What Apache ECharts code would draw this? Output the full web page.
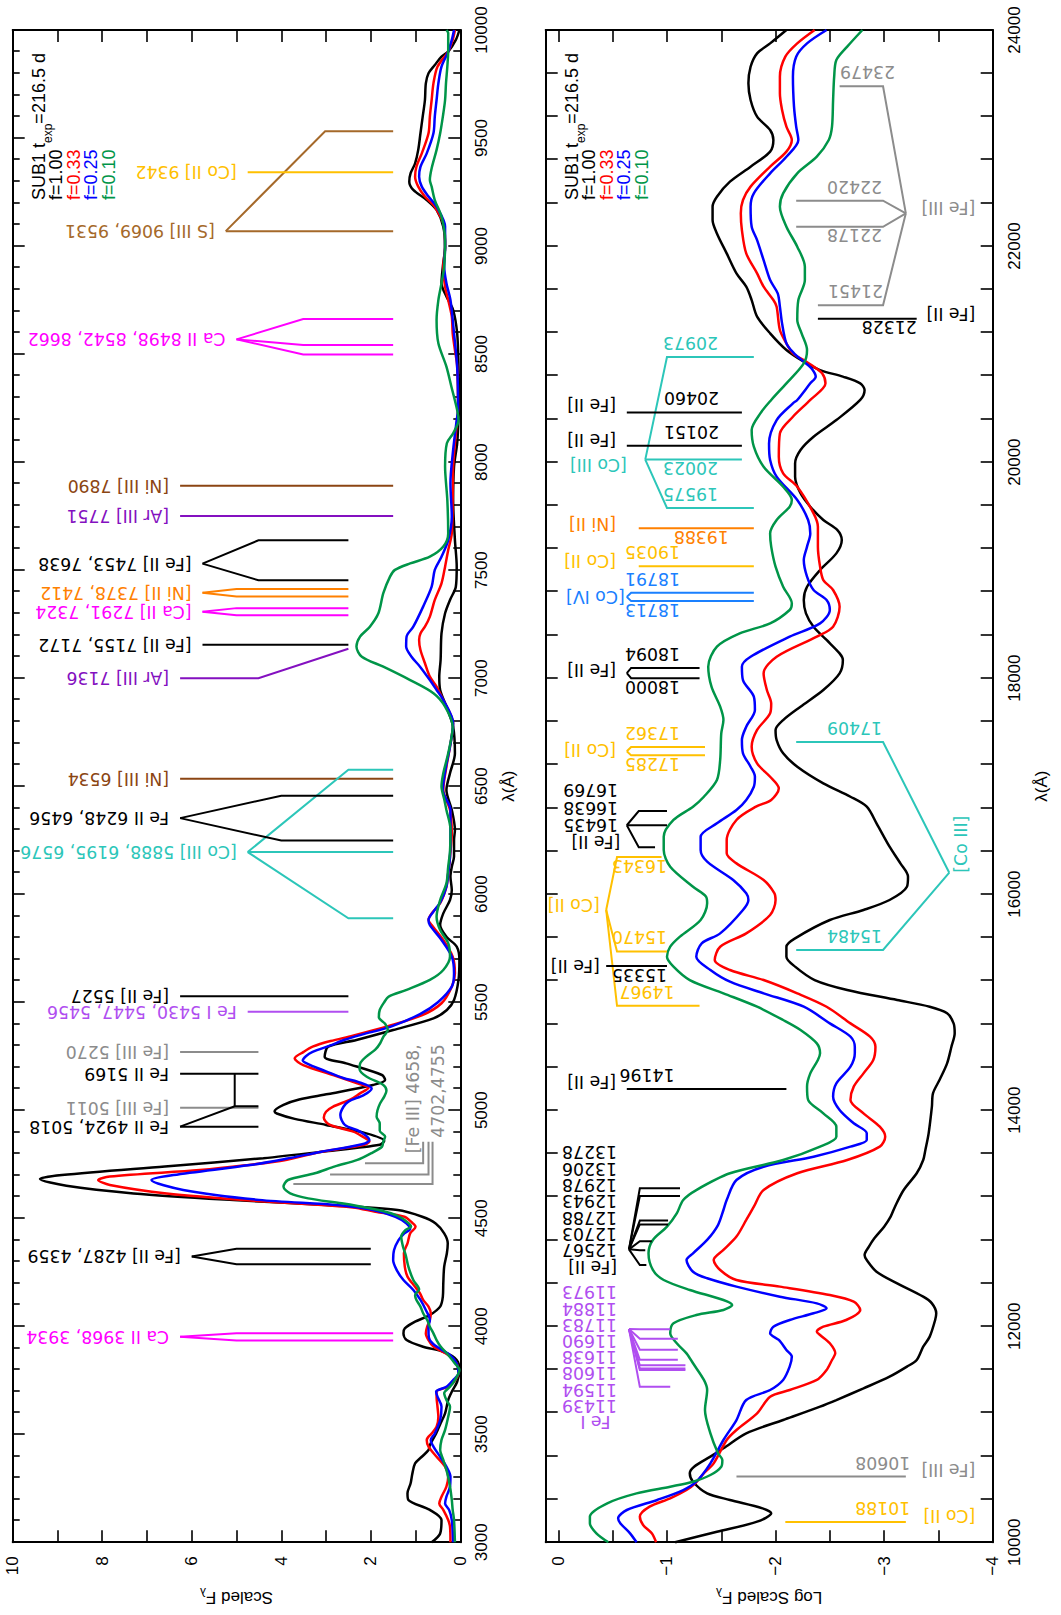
<!DOCTYPE html>
<html>
<head>
<meta charset="utf-8">
<script src="https://cdn.jsdelivr.net/npm/echarts@6.0.0/dist/echarts.min.js"></script>
<style>
html, body { margin: 0; padding: 0; background: #fff; overflow: hidden; width: 1061px; height: 1615px; }
/* the figure is laid out landscape and turned a quarter turn counter-clockwise */
#chart { position: absolute; left: 0; top: 0; width: 1615px; height: 1061px;
         transform-origin: 0 0; transform: translateY(1615px) rotate(-90deg); }
</style>
</head>
<body>
<div id="chart"></div>
<script>
// ---------------- optical spectra (Scaled F_lambda), pairs [wavelength A, flux] ----------------
const optF100 = [[3000,0.64],[3041,0.45],[3103,0.42],[3150,0.68],[3196,1.16],[3227,1.18],[3273,1.11],[3319,1.07],[3365,1.01],[3396,0.86],[3427,0.71],[3450,0.68],[3504,0.54],[3551,0.44],[3597,0.34],[3659,0.27],[3697,0.19],[3743,0.07],[3798,0.02],[3844,0.08],[3882,0.38],[3905,0.83],[3936,1.20],[3967,1.27],[3990,1.24],[4021,1.01],[4052,0.68],[4091,0.45],[4137,0.39],[4199,0.38],[4276,0.36],[4338,0.30],[4384,0.28],[4430,0.36],[4476,0.55],[4507,0.85],[4538,1.4],[4561,3.0],[4584,5.07],[4615,7.3],[4650,8.8],[4682,9.39],[4700,8.9],[4740,6.6],[4778,4.4],[4810,3.0],[4840,1.8],[4858,1.7],[4893,2.1],[4932,3.0],[4960,3.7],[4985,4.1],[4995,4.15],[5025,3.95],[5050,3.6],[5075,2.95],[5117,1.95],[5140,1.68],[5163,1.75],[5217,2.55],[5248,3.03],[5294,2.95],[5325,2.32],[5371,1.5],[5425,0.6],[5464,0.3],[5510,0.14],[5603,0.04],[5695,0.02],[5757,0.08],[5803,0.31],[5857,0.45],[5911,0.38],[5973,0.23],[6019,0.19],[6081,0.22],[6127,0.19],[6174,0.14],[6251,0.14],[6297,0.12],[6390,0.19],[6482,0.31],[6560,0.23],[6652,0.12],[6775,0.16],[6868,0.31],[6945,0.45],[7007,0.47],[7084,0.44],[7207,0.42],[7300,0.34],[7362,0.23],[7423,0.10],[7516,0.08],[7639,0.12],[7825,0.16],[7979,0.14],[8087,0.07],[8195,0.04],[8241,0.03],[8442,0.04],[8596,0.07],[8704,0.16],[8766,0.31],[8828,0.42],[8905,0.39],[8997,0.34],[9090,0.38],[9167,0.53],[9213,0.75],[9260,1.05],[9298,1.14],[9337,1.11],[9383,1.01],[9445,0.94],[9522,0.89],[9599,0.84],[9676,0.79],[9753,0.77],[9800,0.71],[9838,0.57],[9877,0.42],[9900,0.27],[9954,0.10],[10000,0.02]];
const optF033 = [[3000,0.22],[3072,0.23],[3103,0.27],[3150,0.38],[3180,0.47],[3211,0.42],[3258,0.31],[3304,0.27],[3350,0.34],[3396,0.53],[3443,0.71],[3474,0.75],[3504,0.64],[3535,0.53],[3581,0.49],[3628,0.51],[3674,0.53],[3697,0.53],[3720,0.27],[3743,0.14],[3782,0.04],[3828,0.08],[3867,0.27],[3906,0.60],[3936,0.71],[3967,0.77],[3998,0.74],[4029,0.68],[4060,0.66],[4091,0.71],[4122,0.83],[4152,0.90],[4183,1.01],[4230,1.18],[4276,1.24],[4338,1.26],[4384,1.18],[4430,1.12],[4461,1.0],[4480,1.08],[4507,1.25],[4530,1.9],[4550,2.4],[4577,4.33],[4615,6.56],[4654,7.83],[4677,8.09],[4693,7.83],[4723,5.82],[4745,4.8],[4770,3.9],[4808,3.1],[4839,2.17],[4855,2.03],[4880,2.2],[4901,2.39],[4932,2.91],[4965,3.05],[4993,3.0],[5016,2.85],[5050,2.45],[5078,2.24],[5104,2.05],[5124,2.3],[5163,2.84],[5209,3.51],[5240,3.7],[5270,3.5],[5294,3.3],[5320,2.9],[5345,2.4],[5390,1.6],[5440,0.85],[5495,0.42],[5572,0.19],[5634,0.12],[5711,0.17],[5788,0.38],[5857,0.64],[5881,0.71],[5911,0.64],[5958,0.45],[6035,0.31],[6097,0.27],[6174,0.23],[6282,0.19],[6390,0.23],[6482,0.38],[6590,0.31],[6683,0.23],[6791,0.16],[6837,0.23],[6899,0.38],[6961,0.53],[7007,0.68],[7069,0.79],[7130,0.89],[7177,0.92],[7207,0.89],[7238,0.79],[7285,0.68],[7362,0.57],[7439,0.42],[7516,0.34],[7593,0.27],[7670,0.19],[7825,0.17],[7979,0.16],[8087,0.12],[8195,0.07],[8241,0.05],[8442,0.07],[8519,0.12],[8596,0.17],[8673,0.19],[8750,0.27],[8812,0.34],[8905,0.38],[8997,0.34],[9090,0.36],[9182,0.57],[9229,0.79],[9275,0.94],[9321,1.01],[9367,0.98],[9429,0.86],[9522,0.71],[9599,0.68],[9676,0.64],[9753,0.60],[9830,0.51],[9900,0.27],[9954,0.17],[10000,0.12]];
const optF025 = [[3000,0.16],[3103,0.19],[3150,0.25],[3180,0.34],[3211,0.31],[3258,0.23],[3304,0.22],[3350,0.31],[3396,0.45],[3443,0.60],[3474,0.66],[3504,0.57],[3566,0.45],[3628,0.42],[3674,0.51],[3697,0.54],[3720,0.31],[3751,0.16],[3782,0.04],[3828,0.08],[3867,0.23],[3906,0.53],[3936,0.68],[3967,0.71],[3998,0.71],[4029,0.68],[4075,0.77],[4122,0.89],[4168,1.05],[4214,1.27],[4260,1.42],[4307,1.50],[4353,1.48],[4399,1.38],[4430,1.25],[4450,1.12],[4476,1.2],[4507,1.45],[4538,1.95],[4560,2.7],[4585,4.5],[4631,6.19],[4677,6.9],[4700,6.41],[4746,4.7],[4775,3.9],[4808,3.1],[4844,2.17],[4862,2.03],[4901,2.24],[4932,2.58],[4978,2.68],[5016,2.61],[5040,2.5],[5071,2.15],[5101,1.98],[5132,2.3],[5148,2.6],[5180,3.0],[5210,3.36],[5230,3.52],[5250,3.45],[5270,3.3],[5300,2.9],[5325,2.6],[5350,2.2],[5387,1.55],[5445,0.9],[5500,0.5],[5572,0.19],[5634,0.14],[5711,0.19],[5788,0.42],[5857,0.68],[5881,0.71],[5919,0.60],[5965,0.44],[6035,0.31],[6097,0.27],[6174,0.23],[6282,0.22],[6390,0.22],[6482,0.39],[6590,0.32],[6683,0.23],[6791,0.16],[6899,0.38],[6945,0.53],[6991,0.68],[7053,0.90],[7099,1.09],[7146,1.21],[7192,1.20],[7238,1.05],[7331,0.83],[7423,0.64],[7501,0.57],[7562,0.42],[7639,0.27],[7747,0.19],[7902,0.22],[8056,0.16],[8195,0.08],[8241,0.05],[8442,0.07],[8596,0.14],[8750,0.22],[8828,0.31],[8905,0.36],[8997,0.34],[9090,0.34],[9182,0.53],[9229,0.71],[9275,0.86],[9321,0.92],[9367,0.89],[9429,0.75],[9522,0.60],[9599,0.57],[9676,0.53],[9753,0.49],[9830,0.42],[9900,0.27],[9954,0.19],[10000,0.14]];
const optF010 = [[3000,0.12],[3103,0.14],[3150,0.17],[3196,0.19],[3258,0.23],[3319,0.29],[3381,0.38],[3427,0.45],[3474,0.42],[3520,0.34],[3581,0.27],[3628,0.23],[3659,0.31],[3690,0.36],[3720,0.23],[3751,0.12],[3798,0.02],[3828,0.12],[3867,0.27],[3906,0.44],[3936,0.53],[3967,0.60],[3998,0.68],[4029,0.74],[4060,0.83],[4091,0.89],[4122,0.98],[4145,1.01],[4170,0.92],[4214,1.05],[4276,1.16],[4330,1.22],[4368,1.28],[4415,1.32],[4446,1.22],[4461,1.1],[4476,1.15],[4500,1.3],[4523,1.55],[4545,2.0],[4569,2.65],[4592,3.4],[4615,3.8],[4646,3.95],[4677,3.85],[4708,3.25],[4740,2.8],[4770,2.3],[4800,2.0],[4831,1.75],[4855,1.72],[4878,1.68],[4905,1.8],[4939,1.8],[4970,1.87],[5000,1.85],[5032,1.79],[5063,1.7],[5090,1.65],[5117,1.72],[5155,2.09],[5190,2.25],[5215,2.24],[5248,2.1],[5280,1.9],[5310,1.79],[5340,1.72],[5371,1.62],[5400,1.68],[5430,1.82],[5464,1.8],[5500,1.7],[5526,1.6],[5557,1.2],[5603,0.68],[5649,0.38],[5711,0.23],[5773,0.27],[5834,0.45],[5896,0.53],[5973,0.45],[6050,0.31],[6127,0.27],[6200,0.23],[6300,0.22],[6390,0.31],[6440,0.36],[6498,0.42],[6560,0.38],[6652,0.27],[6775,0.17],[6868,0.34],[6930,0.60],[6991,1.12],[7053,1.72],[7099,2.20],[7146,2.32],[7192,2.24],[7238,2.02],[7300,1.83],[7393,1.72],[7470,1.57],[7501,1.46],[7531,1.12],[7562,0.68],[7609,0.38],[7670,0.27],[7825,0.29],[7979,0.34],[8087,0.30],[8133,0.16],[8195,0.04],[8241,0.07],[8350,0.2],[8442,0.31],[8550,0.49],[8658,0.53],[8750,0.49],[8828,0.42],[8905,0.36],[9028,0.34],[9136,0.42],[9213,0.57],[9275,0.64],[9306,0.68],[9360,0.64],[9445,0.53],[9522,0.45],[9599,0.39],[9676,0.34],[9753,0.32],[9830,0.29],[9908,0.27],[9985,0.27],[10000,0.31]];

// ---------------- near-infrared spectra (log Scaled F_lambda) ----------------
const irF100 = [[10000,-1.075],[10098,-1.46],[10191,-1.83],[10268,-1.96],[10314,-1.88],[10392,-1.58],[10453,-1.37],[10561,-1.24],[10639,-1.21],[10700,-1.25],[10793,-1.40],[10870,-1.52],[11009,-1.73],[11132,-2.07],[11256,-2.41],[11317,-2.56],[11425,-2.81],[11533,-3.05],[11626,-3.21],[11688,-3.30],[11811,-3.36],[11904,-3.42],[12058,-3.47],[12120,-3.48],[12212,-3.44],[12274,-3.36],[12397,-3.12],[12505,-2.93],[12613,-2.84],[12660,-2.82],[12737,-2.86],[12814,-2.91],[12922,-3.00],[13015,-3.06],[13107,-3.10],[13261,-3.18],[13416,-3.30],[13539,-3.36],[13632,-3.38],[13786,-3.41],[14033,-3.44],[14156,-3.45],[14280,-3.51],[14434,-3.58],[14588,-3.62],[14712,-3.65],[14804,-3.64],[14897,-3.58],[14958,-3.42],[15020,-3.12],[15113,-2.66],[15205,-2.36],[15329,-2.18],[15421,-2.10],[15514,-2.10],[15591,-2.18],[15761,-2.50],[15854,-2.81],[15946,-3.05],[16069,-3.21],[16162,-3.22],[16285,-3.15],[16440,-3.05],[16656,-2.93],[16810,-2.84],[16902,-2.69],[17026,-2.44],[17180,-2.20],[17304,-2.07],[17427,-2.01],[17520,-2.00],[17612,-2.07],[17736,-2.23],[17890,-2.44],[18044,-2.59],[18168,-2.62],[18229,-2.59],[18353,-2.47],[18476,-2.35],[18600,-2.28],[18723,-2.26],[18846,-2.29],[19001,-2.41],[19155,-2.56],[19279,-2.61],[19371,-2.57],[19464,-2.44],[19587,-2.32],[19711,-2.23],[19865,-2.18],[19988,-2.18],[20112,-2.23],[20235,-2.35],[20389,-2.56],[20575,-2.78],[20667,-2.82],[20729,-2.78],[20791,-2.62],[20852,-2.41],[20930,-2.26],[21038,-2.10],[21192,-1.95],[21346,-1.83],[21500,-1.78],[21624,-1.73],[21747,-1.64],[21932,-1.55],[22117,-1.46],[22241,-1.42],[22364,-1.42],[22457,-1.46],[22596,-1.58],[22735,-1.77],[22874,-1.95],[22982,-1.98],[23074,-1.95],[23198,-1.83],[23352,-1.77],[23506,-1.75],[23660,-1.77],[23784,-1.83],[23876,-1.95],[24000,-2.10]];
const irF033 = [[10000,-0.90],[10083,-0.86],[10160,-0.78],[10238,-0.75],[10330,-0.84],[10407,-1.03],[10484,-1.18],[10546,-1.26],[10639,-1.34],[10731,-1.43],[10947,-1.55],[11040,-1.64],[11194,-1.83],[11348,-1.95],[11410,-2.13],[11503,-2.38],[11595,-2.47],[11688,-2.52],[11749,-2.55],[11842,-2.50],[11919,-2.41],[11950,-2.38],[11996,-2.44],[12058,-2.65],[12151,-2.78],[12228,-2.72],[12289,-2.50],[12367,-2.04],[12428,-1.64],[12521,-1.49],[12613,-1.43],[12706,-1.52],[12830,-1.64],[12984,-1.73],[13107,-1.80],[13261,-1.89],[13416,-2.20],[13539,-2.66],[13663,-2.96],[13755,-3.01],[13848,-2.96],[13971,-2.81],[14095,-2.69],[14218,-2.72],[14341,-2.81],[14465,-2.90],[14588,-2.92],[14681,-2.87],[14804,-2.69],[14958,-2.47],[15082,-2.20],[15205,-1.89],[15298,-1.58],[15391,-1.44],[15514,-1.49],[15637,-1.73],[15807,-1.95],[15946,-2.00],[16008,-1.99],[16131,-1.89],[16285,-1.64],[16378,-1.55],[16501,-1.55],[16687,-1.64],[16810,-1.82],[16872,-1.96],[16979,-2.03],[17087,-1.95],[17211,-1.83],[17365,-1.78],[17520,-1.83],[17674,-1.95],[17766,-1.96],[17890,-1.92],[18044,-1.89],[18198,-2.01],[18384,-2.38],[18476,-2.53],[18661,-2.59],[18816,-2.53],[18908,-2.44],[19032,-2.41],[19217,-2.39],[19402,-2.39],[19525,-2.35],[19772,-2.20],[19896,-2.07],[20050,-2.03],[20266,-2.04],[20420,-2.16],[20575,-2.32],[20729,-2.46],[20821,-2.43],[20898,-2.33],[20944,-2.26],[21007,-2.16],[21099,-2.10],[21223,-2.04],[21439,-2.01],[21500,-1.98],[21624,-1.89],[21747,-1.83],[21932,-1.73],[22148,-1.69],[22303,-1.68],[22426,-1.70],[22550,-1.77],[22735,-1.95],[22874,-2.10],[22982,-2.15],[23105,-2.10],[23260,-2.06],[23414,-2.04],[23568,-2.04],[23753,-2.09],[23876,-2.20],[24000,-2.36]];
const irF025 = [[10000,-0.72],[10083,-0.66],[10176,-0.57],[10222,-0.55],[10299,-0.63],[10392,-0.91],[10484,-1.15],[10561,-1.27],[10731,-1.40],[10947,-1.52],[11132,-1.64],[11317,-1.73],[11410,-1.95],[11503,-2.07],[11626,-2.13],[11719,-2.15],[11780,-2.10],[11873,-2.03],[11935,-1.95],[11996,-1.98],[12058,-2.13],[12120,-2.35],[12166,-2.47],[12212,-2.38],[12274,-2.04],[12367,-1.64],[12444,-1.37],[12505,-1.24],[12613,-1.18],[12675,-1.24],[12799,-1.37],[12937,-1.47],[13076,-1.52],[13169,-1.55],[13354,-1.64],[13477,-1.89],[13570,-2.35],[13663,-2.69],[13724,-2.84],[13786,-2.84],[13879,-2.72],[14002,-2.59],[14125,-2.53],[14249,-2.56],[14403,-2.69],[14527,-2.73],[14588,-2.73],[14681,-2.69],[14804,-2.50],[14958,-2.26],[15082,-1.89],[15190,-1.58],[15298,-1.40],[15421,-1.27],[15545,-1.32],[15637,-1.49],[15854,-1.70],[15946,-1.75],[16008,-1.73],[16131,-1.61],[16301,-1.37],[16409,-1.31],[16532,-1.31],[16656,-1.46],[16779,-1.64],[16872,-1.73],[16995,-1.80],[17087,-1.81],[17180,-1.77],[17304,-1.70],[17427,-1.69],[17550,-1.73],[17705,-1.81],[17828,-1.80],[17982,-1.70],[18106,-1.69],[18198,-1.77],[18384,-2.13],[18507,-2.41],[18631,-2.50],[18723,-2.47],[18816,-2.35],[18939,-2.29],[19093,-2.26],[19217,-2.29],[19340,-2.32],[19464,-2.30],[19649,-2.20],[19865,-2.01],[20019,-1.95],[20173,-1.94],[20389,-2.01],[20544,-2.16],[20575,-2.20],[20729,-2.32],[20791,-2.37],[20868,-2.33],[20930,-2.26],[21007,-2.17],[21099,-2.10],[21284,-2.06],[21439,-2.04],[21562,-2.02],[21685,-1.95],[21870,-1.89],[22055,-1.83],[22179,-1.78],[22364,-1.77],[22488,-1.80],[22673,-1.95],[22827,-2.10],[22982,-2.21],[23105,-2.19],[23290,-2.17],[23568,-2.16],[23753,-2.19],[23876,-2.29],[24000,-2.47]];
const irF010 = [[10000,-0.46],[10083,-0.35],[10176,-0.29],[10238,-0.29],[10361,-0.45],[10453,-0.72],[10515,-1.03],[10561,-1.24],[10623,-1.40],[10700,-1.50],[10762,-1.51],[10824,-1.47],[11009,-1.40],[11225,-1.35],[11410,-1.37],[11503,-1.34],[11657,-1.24],[11749,-1.18],[11842,-1.09],[11935,-1.03],[12027,-1.06],[12104,-1.27],[12151,-1.52],[12197,-1.60],[12243,-1.52],[12336,-1.21],[12428,-0.97],[12521,-0.87],[12675,-0.83],[12799,-0.87],[12922,-1.00],[13045,-1.09],[13169,-1.15],[13261,-1.27],[13416,-1.58],[13539,-2.07],[13663,-2.41],[13755,-2.56],[13848,-2.56],[13971,-2.44],[14095,-2.30],[14218,-2.29],[14341,-2.32],[14465,-2.39],[14527,-2.41],[14619,-2.38],[14743,-2.23],[14835,-2.07],[14958,-1.83],[15082,-1.52],[15205,-1.21],[15329,-1.06],[15421,-1.00],[15514,-1.03],[15607,-1.12],[15761,-1.31],[15915,-1.37],[15977,-1.36],[16069,-1.24],[16254,-1.03],[16409,-0.97],[16532,-0.97],[16687,-1.06],[16810,-1.24],[16902,-1.34],[17057,-1.46],[17242,-1.49],[17489,-1.50],[17612,-1.52],[17736,-1.49],[17921,-1.41],[18106,-1.38],[18291,-1.46],[18414,-1.67],[18507,-1.95],[18631,-2.13],[18692,-2.15],[18846,-2.07],[19032,-2.00],[19217,-1.96],[19340,-1.95],[19464,-2.01],[19587,-2.13],[19649,-2.15],[19772,-2.07],[19957,-1.89],[20143,-1.80],[20297,-1.78],[20451,-1.86],[20575,-1.96],[20729,-2.10],[20914,-2.26],[21038,-2.29],[21192,-2.24],[21315,-2.20],[21500,-2.21],[21685,-2.27],[21809,-2.27],[21994,-2.20],[22179,-2.10],[22364,-2.04],[22488,-2.07],[22673,-2.20],[22827,-2.38],[22982,-2.49],[23105,-2.52],[23352,-2.53],[23568,-2.54],[23722,-2.56],[23846,-2.66],[24000,-2.80]];

const modelNames = ['f=1.00', 'f=0.33', 'f=0.25', 'f=0.10'];
const epochLabel = ['SUB1 t', 'exp', '=216.5 d'];

// ---------------- optical line identifications ----------------
const optIdText = ['[S III] 9069, 9531', '[Co II] 9342', 'Ca II 8498, 8542, 8662', '[Ni III] 7890', '[Ar III] 7751',
  '[Fe II] 7453, 7638', '[Ni II] 7378, 7412', '[Ca II] 7291, 7324', '[Fe II] 7155, 7172', '[Ar III] 7136',
  '[Ni III] 6534', '[Co III] 5888, 6195, 6576', 'Fe II 6248, 6456', '[Fe II] 5527', 'Fe I 5430, 5447, 5456',
  '[Fe III] 5270', 'Fe II 5169', '[Fe III] 5011', 'Fe II 4924, 5018', '[Fe III] 4658,\n4702,4755',
  '[Fe II] 4287, 4359', 'Ca II 3968, 3934'];
const optIdWave = [[9069, 9531], [9342], [8498, 8542, 8662], [7890], [7751],
  [7453, 7638], [7378, 7412], [7291, 7324], [7155], [7136],
  [6534], [5888, 6195, 6576], [6248, 6456], [5527], [5456],
  [5270], [5169], [5011], [4924, 5018], [4658, 4702, 4755],
  [4287, 4359], [3934, 3968]];

// ---------------- near-infrared line identifications ----------------
const irIdSpecies = ['[Fe III]', '[Fe II]', '[Co III]', '[Fe II]', '[Fe II]', '[Ni II]', '[Co II]', '[Co IV]', '[Fe II]', '[Co II]',
  '[Fe II]', '[Co III]', '[Co II]', '[Fe II]', '[Fe II]', '[Fe II]', 'Fe I', '[Fe III]', '[Co II]'];
const irIdWave = [[21451, 22178, 22420, 23479], [21328], [19575, 20023, 20973], [20460], [20151], [19388], [19035], [18713, 18791],
  [18000, 18094], [17285, 17362], [16435, 16638, 16769], [15484, 17409], [14967, 15470, 16343], [15335], [14196],
  [12567, 12703, 12788, 12943, 12978, 13206, 13278], [11439, 11594, 11608, 11638, 11690, 11783, 11884, 11973], [10608], [10188]];

// ---------------- styling ----------------
const FONT_AX = '"Liberation Sans", Arial, Helvetica, sans-serif';
const FONT_ID = '"DejaVu Sans", "Liberation Sans", sans-serif';
const ID_SIZE = 17.3;
const C = { black: '#000000', red: '#ff0000', blue: '#0000ff', green: '#009548',
  magenta: '#ff00ff', gold: '#ffc000', brownS: '#a5692a', brownNi: '#8b4513', purple: '#8410c0',
  orange: '#ff8000', turq: '#2cc6b9', violet: '#b04ef0', gray: '#8c8c8c', co4: '#1a80ff' };
const modelColors = [C.black, C.red, C.blue, C.green];

const optIdColor = [C.brownS, C.gold, C.magenta, C.brownNi, C.purple, C.black, C.orange, C.magenta, C.black, C.purple,
  C.brownNi, C.turq, C.black, C.black, C.violet, C.gray, C.black, C.gray, C.black, C.gray, C.black, C.magenta];
const irIdColor = [C.gray, C.black, C.turq, C.black, C.black, C.orange, C.gold, C.co4, C.black, C.gold,
  C.black, C.turq, C.gold, C.black, C.black, C.black, C.violet, C.gray, C.gold];

// leader-line geometry in flux units (start, bend, meeting point, tail)
const optIdLayout = [
  { y0: 1.5, y1: 3.02, ax: 9069, ay: 5.24 },
  { y0: 1.5, ay: 4.75 },
  { y0: 1.5, y1: 3.51, ax: 8568, ay: 5.0 },
  { y0: 1.5, ay: 6.26 },
  { y0: 1.5, ay: 6.26 },
  { y0: 2.5, y1: 4.51, ax: 7530, ay: 5.76 },
  { y0: 2.5, y1: 5.0, ax: 7395, ay: 5.76 },
  { y0: 2.5, y1: 5.0, ax: 7307, ay: 5.76 },
  { y0: 2.5, ay: 5.76 },
  { y0: 2.5, ax: 7000, ay: 4.51, tail: 6.26 },
  { y0: 1.5, ay: 6.26 },
  { y0: 1.5, y1: 2.5, ax: 6195, ay: 4.75 },
  { y0: 1.5, y1: 4.0, ax: 6352, ay: 6.26 },
  { y0: 2.5, ay: 6.26 },
  { y0: 2.5, ay: 4.75 },
  { y0: 4.51, ay: 6.26 },
  { y0: 4.51, ay: 6.26, link: [5018, 5.04] },
  { y0: 4.51, ay: 6.26 },
  { y0: 4.51, y1: 5.04, ax: 4924, ay: 6.26 },
  { hook: { start: [3.73, 2.91, 2.13], bend: [0.62, 0.71, 0.83], to: 4854 }, textAt: [[5305, 1.05], [5305, 0.49]] },
  { y0: 2.0, y1: 5.0, ax: 4323, ay: 6.0 },
  { y0: 1.5, y1: 5.0, ax: 3951, ay: 6.26 }
];

// leader-line geometry in log-flux units, number placement and species placement
const irIdLayout = [
  { start: [-2.39, -2.19, -2.19, -2.59], bend: -2.99, ax: 22303, ay: -3.20, side: [1, -1, 1, 1], numVal: [-2.99, -2.98, -2.98, -3.10], sp: [22352, -3.84] },
  { start: -2.39, ay: -3.30, side: [-1], numVal: -3.30, sp: [21374, -3.84] },
  { start: [-1.80, -1.69, -1.80], bend: -1.0, ax: 20023, ay: -0.80, side: [1, -1, 1], numVal: -1.47, sp: [19973, -0.63] },
  { start: -1.69, ay: -0.63, side: [1], numVal: -1.48, sp: [20530, -0.53] },
  { start: -1.69, ay: -0.63, side: [1], numVal: -1.48, sp: [20205, -0.53] },
  { start: -1.80, ay: -0.74, side: [-1], numVal: -1.57, sp: [19431, -0.53] },
  { start: -1.80, ay: -0.74, side: [1], numVal: -1.12, sp: [19083, -0.53] },
  { start: -1.80, bend: -0.67, ax: 18752, ay: -0.63, side: [-1, 1], numVal: -1.12, sp: [18750, -0.61] },
  { start: -1.30, bend: -0.67, ax: 18047, ay: -0.63, side: [-1, 1], numVal: -1.12, sp: [18075, -0.53] },
  { start: -1.35, bend: -0.67, ax: 17323, ay: -0.63, side: [-1, 1], numVal: -1.12, sp: [17335, -0.53] },
  { start: [-0.89, -1.0, -1.0], bend: -0.74, ax: 16638, ay: -0.63, stack: { from: 16960, step: -160, val: -0.55, spVal: -0.57 } },
  { start: -2.19, bend: -2.99, ax: 16199, ay: -3.60, side: [1, 1], numVal: -2.98, sp: [16199, -3.71], spFlat: true },
  { start: [-1.30, -1.0, -0.95], bend: -0.54, ax: 15854, ay: -0.44, side: [1, 1, -1], numVal: [-1.07, -1.0, -1.0], sp: [15900, -0.38] },
  { start: -1.0, ay: -0.44, side: [-1], numVal: -1.0, sp: [15335, -0.38] },
  { start: -2.10, ay: -0.63, side: [1], numVal: -1.07, sp: [14261, -0.53] },
  { start: [-0.81, -0.80, -0.86, -1.01, -1.01, -1.12, -1.12], bend: -0.75, ax: 12712, ay: -0.65, stack: { from: 13610, step: -151, val: -0.54, spVal: -0.54 } },
  { start: [-1.03, -1.17, -1.17, -1.17, -1.10, -1.10, -1.10, -1.03], bend: -0.75, ax: 11975, ay: -0.65, stack: { from: 12314, step: -150, val: -0.54, spVal: -0.48 } },
  { start: -1.64, ay: -3.20, side: [1], numVal: -3.24, sp: [10669, -3.84] },
  { start: -2.09, ay: -3.20, side: [1], numVal: -3.24, sp: [10243, -3.84] }
];

// ---------------- helpers ----------------
const UP = Math.PI / 2;   // text reading along the flux axis
function idText(x, y, text, color, rotation, align) {
  return { type: 'text', x, y, rotation, silent: true,
    style: { text, fill: color, fontSize: ID_SIZE, fontFamily: FONT_ID, align, verticalAlign: 'middle' } };
}
function seg(points, color) {
  return { type: 'polyline', silent: true, shape: { points }, style: { stroke: color, lineWidth: 2, fill: null } };
}

function renderOptId(params, api) {
  const i = params.dataIndex, L = optIdLayout[i], col = optIdColor[i], waves = optIdWave[i];
  const kids = [];
  if (L.hook) {
    waves.forEach((w, k) => kids.push(seg([
      api.coord([w, L.hook.start[k]]), api.coord([w, L.hook.bend[k]]), api.coord([L.hook.to, L.hook.bend[k]])], col)));
    optIdText[i].split('\n').forEach((t, k) => {
      const p = api.coord(L.textAt[k]);
      kids.push(idText(p[0], p[1], t, col, 0, 'right'));
    });
    return { type: 'group', children: kids };
  }
  const ax = L.ax != null ? L.ax : waves[0];
  waves.forEach(w => {
    const pts = [api.coord([w, L.y0])];
    if (L.y1 != null) pts.push(api.coord([w, L.y1]));
    pts.push(api.coord([L.ax != null ? L.ax : w, L.ay]));
    if (L.tail != null) pts.push(api.coord([ax, L.tail]));
    kids.push(seg(pts, col));
  });
  if (L.link) kids.push(seg([api.coord([waves[0], L.link[1]]), api.coord(L.link)], col));
  const end = api.coord([ax, L.tail != null ? L.tail : L.ay]);
  kids.push(idText(end[0], end[1] - 11, optIdText[i], col, UP, 'left'));
  return { type: 'group', children: kids };
}

function renderIrId(params, api) {
  const i = params.dataIndex, L = irIdLayout[i], col = irIdColor[i], waves = irIdWave[i];
  const kids = [];
  waves.forEach((w, k) => {
    const s = Array.isArray(L.start) ? L.start[k] : L.start;
    const pts = [api.coord([w, s])];
    if (L.bend != null) pts.push(api.coord([w, L.bend]));
    pts.push(api.coord([L.ax != null ? L.ax : w, L.ay]));
    kids.push(seg(pts, col));
  });
  if (L.stack) {
    const items = waves.slice().sort((a, b) => b - a).map(String).concat([irIdSpecies[i]]);
    items.forEach((t, k) => {
      const last = k === items.length - 1;
      const p = api.coord([L.stack.from + k * L.stack.step, last ? L.stack.spVal : L.stack.val]);
      kids.push(idText(p[0], p[1], t, col, UP, 'left'));
    });
  } else {
    waves.forEach((w, k) => {
      const v = Array.isArray(L.numVal) ? L.numVal[k] : L.numVal;
      const p = api.coord([w, v]);
      kids.push(idText(p[0] + (L.side[k] > 0 ? 14 : -8.5), p[1], String(w), col, UP, 'left'));
    });
    const q = api.coord(L.sp);
    kids.push(idText(q[0], q[1], irIdSpecies[i], col, L.spFlat ? 0 : UP, 'left'));
  }
  return { type: 'group', children: kids };
}

// text pieces with subscript placement, laid out with measured widths
const measureCtx = document.createElement('canvas').getContext('2d');
function textWidth(t, size) { measureCtx.font = size + 'px ' + FONT_AX; return measureCtx.measureText(t).width; }
function pieceText(x, y, rotation, pieces, centered) {
  const ws = pieces.map(p => textWidth(p.t, p.size));
  const total = ws.reduce((a, b) => a + b, 0);
  let cx = centered ? -total / 2 : 0;
  const children = pieces.map((p, k) => {
    const el = { type: 'text', x: cx, y: p.dy || 0, silent: true,
      style: { text: p.t, fill: p.color || '#000', fontSize: p.size, fontFamily: FONT_AX, align: 'left', verticalAlign: 'middle' } };
    cx += ws[k];
    return el;
  });
  return { type: 'group', x, y, rotation, silent: true, children };
}

// ---------------- layout (landscape) ----------------
const grids = [
  { left: 72.7, top: 12.7, width: 1512.3, height: 447.6 },
  { left: 72.7, top: 545.7, width: 1512.3, height: 447 }
];

function frameAxis(base, extra) {
  return Object.assign({
    type: 'value', splitLine: { show: false },
    axisLine: { show: true, onZero: false, lineStyle: { color: '#000', width: 2 } },
    axisTick: { show: true, inside: true, length: 12, lineStyle: { color: '#000', width: 1.6 } },
    axisLabel: { show: false },
    nameTextStyle: { color: '#000', fontSize: 17, fontFamily: FONT_AX }
  }, base, extra || {});
}
const labelStyle = { show: true, color: '#000', fontSize: 17, fontFamily: FONT_AX, margin: 13, formatter: v => String(v) };
const minus = v => (v < 0 ? '\u2212' + (-v) : String(v));

const xAxes = [
  frameAxis({ gridIndex: 0, position: 'bottom', min: 3000, max: 10000, interval: 500,
    minorTick: { show: true, splitNumber: 5, length: 7, lineStyle: { color: '#000', width: 1.6 } },
    axisLabel: Object.assign({}, labelStyle), name: 'λ(Å)', nameLocation: 'middle', nameGap: 40 }),
  frameAxis({ gridIndex: 0, position: 'top', min: 3000, max: 10000, interval: 500,
    minorTick: { show: true, splitNumber: 5, length: 7, lineStyle: { color: '#000', width: 1.6 } } }),
  frameAxis({ gridIndex: 1, position: 'bottom', min: 10000, max: 24000, interval: 2000,
    minorTick: { show: true, splitNumber: 5, length: 12, lineStyle: { color: '#000', width: 1.6 } },
    axisLabel: Object.assign({}, labelStyle), name: 'λ(Å)', nameLocation: 'middle', nameGap: 40 }),
  frameAxis({ gridIndex: 1, position: 'top', min: 10000, max: 24000, interval: 2000,
    minorTick: { show: true, splitNumber: 5, length: 12, lineStyle: { color: '#000', width: 1.6 } } })
];
const yAxes = [
  frameAxis({ gridIndex: 0, position: 'left', min: 0, max: 10, interval: 1,
    axisLabel: Object.assign({}, labelStyle, { margin: 14, formatter: v => (v % 2 === 0 ? String(v) : '') }) }),
  frameAxis({ gridIndex: 0, position: 'right', min: 0, max: 10, interval: 1 }),
  frameAxis({ gridIndex: 1, position: 'left', min: -4, max: 0.117, interval: 0.5,
    axisLabel: Object.assign({}, labelStyle, { margin: 14, formatter: v => (Number.isInteger(v) ? minus(v) : '') }) }),
  frameAxis({ gridIndex: 1, position: 'right', min: -4, max: 0.117, interval: 0.5 })
];

function spectrum(name, data, color, xi, yi) {
  return { type: 'line', name, data, xAxisIndex: xi, yAxisIndex: yi, showSymbol: false, smooth: 0.3,
    lineStyle: { color, width: 2.5 }, itemStyle: { color }, silent: true, z: 2 };
}
const series = [];
[optF100, optF033, optF025, optF010].forEach((d, k) => series.push(spectrum(modelNames[k], d, modelColors[k], 0, 0)));
[irF100, irF033, irF025, irF010].forEach((d, k) => series.push(spectrum(modelNames[k], d, modelColors[k], 2, 2)));
series.push({ type: 'custom', xAxisIndex: 0, yAxisIndex: 0, renderItem: renderOptId, silent: true, z: 3,
  data: optIdWave.map(w => [w[0], 1]), encode: { x: 0, y: 1 } });
series.push({ type: 'custom', xAxisIndex: 2, yAxisIndex: 2, renderItem: renderIrId, silent: true, z: 3,
  data: irIdWave.map(w => [w[0], -1]), encode: { x: 0, y: 1 } });

// model key and flux-axis titles
const graphics = [];
grids.forEach(g => {
  const x0 = 1415, y0 = g.top + 26, dy = 17.5;
  graphics.push(pieceText(x0, y0, 0, [
    { t: epochLabel[0], size: 18 }, { t: epochLabel[1], size: 12, dy: 9 }, { t: epochLabel[2], size: 18 }]));
  modelNames.forEach((n, k) => graphics.push(pieceText(x0, y0 + dy * (k + 1), 0, [{ t: n, size: 18, color: modelColors[k] }])));
});
graphics.push(pieceText(17.5, grids[0].top + grids[0].height / 2, UP,
  [{ t: 'Scaled F', size: 17 }, { t: 'λ', size: 12, dy: 6 }], true));
graphics.push(pieceText(17.5, grids[1].top + grids[1].height / 2, UP,
  [{ t: 'Log Scaled F', size: 17 }, { t: 'λ', size: 12, dy: 6 }], true));

const chart = echarts.init(document.getElementById('chart'), null, { renderer: 'svg', width: 1615, height: 1061 });
chart.setOption({
  animation: false,
  backgroundColor: '#ffffff',
  grid: grids,
  xAxis: xAxes,
  yAxis: yAxes,
  series,
  graphic: graphics
});
</script>
</body>
</html>
